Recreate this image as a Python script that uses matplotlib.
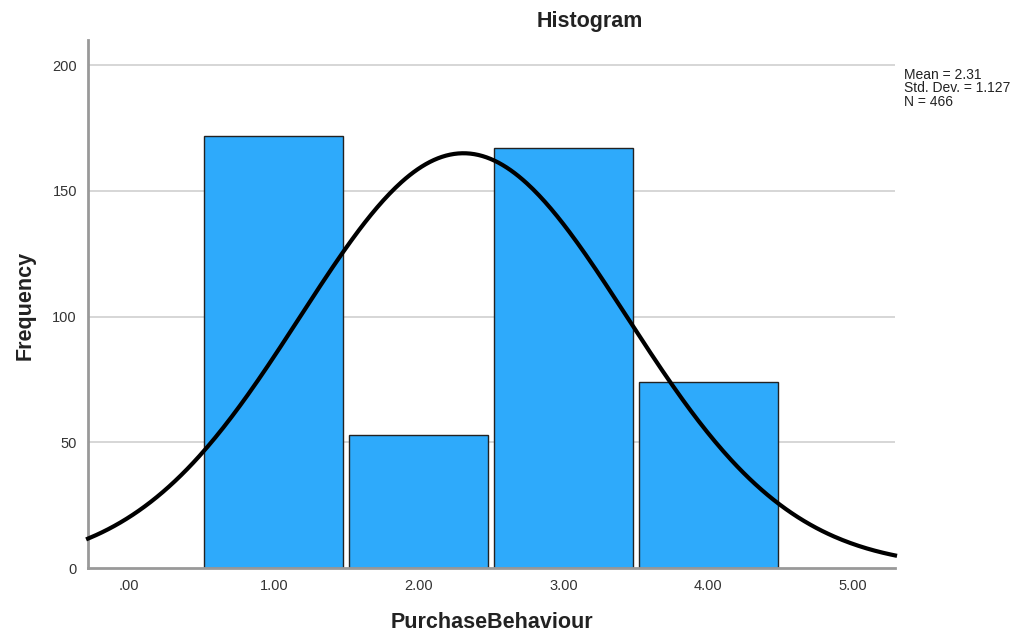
import numpy as np
import matplotlib
matplotlib.use("Agg")
import matplotlib.pyplot as plt

plt.rcParams['font.family'] = ['Liberation Sans', 'DejaVu Sans']

categories = [1.0, 2.0, 3.0, 4.0]
frequencies = [172, 53, 167, 74]
mean_val = 2.31
std_val = 1.127
n_val = 466
xtick_vals = [0, 1, 2, 3, 4, 5]
xtick_labels = [".00", "1.00", "2.00", "3.00", "4.00", "5.00"]
ytick_vals = [0, 50, 100, 150, 200]
stats_lines = ["Mean = 2.31", "Std. Dev. = 1.127", "N = 466"]

fig = plt.figure(figsize=(10.27, 6.33), dpi=100)
ax = fig.add_axes([88/1027, 1-568/633, (895-88)/1027, (568-40)/633])

ax.set_xlim(-0.283, 5.29)
ax.set_ylim(0, 210)

for y in ytick_vals[1:]:
    ax.axhline(y, color="#d0d0d0", lw=1.2, zorder=0)

ax.bar(categories, frequencies, width=0.96, color="#2EAAFB", edgecolor="#222222", linewidth=1.0, zorder=2)

xs = np.linspace(-0.283, 5.29, 400)
ys = n_val * 1.0 / (std_val * np.sqrt(2*np.pi)) * np.exp(-0.5*((xs-mean_val)/std_val)**2)
ax.plot(xs, ys, color="black", lw=3, zorder=3, clip_on=False)

for s in ["top", "right"]:
    ax.spines[s].set_visible(False)
for s in ["left", "bottom"]:
    ax.spines[s].set_color("#999999")
    ax.spines[s].set_linewidth(2)

ax.set_xticks(xtick_vals)
ax.set_xticklabels(xtick_labels)
ax.set_yticks(ytick_vals)
ax.tick_params(length=0, labelsize=10.5, colors="#333333", pad=8)

fig.text(590/1027, 1-21/633, "Histogram", ha="center", va="center", fontsize=15.5, fontweight="bold", color="#222222")
fig.text(492/1027, 1-622/633, "PurchaseBehaviour", ha="center", va="center", fontsize=15.5, fontweight="bold", color="#222222")
fig.text(25/1027, 1-305/633, "Frequency", ha="center", va="center", rotation=90, fontsize=15.5, fontweight="bold", color="#222222")
for i, line in enumerate(stats_lines):
    fig.text(904/1027, 1-(75 + 13.5*i)/633, line, ha="left", va="center", fontsize=10, color="#222222")

fig.savefig("out.png", dpi=100)
